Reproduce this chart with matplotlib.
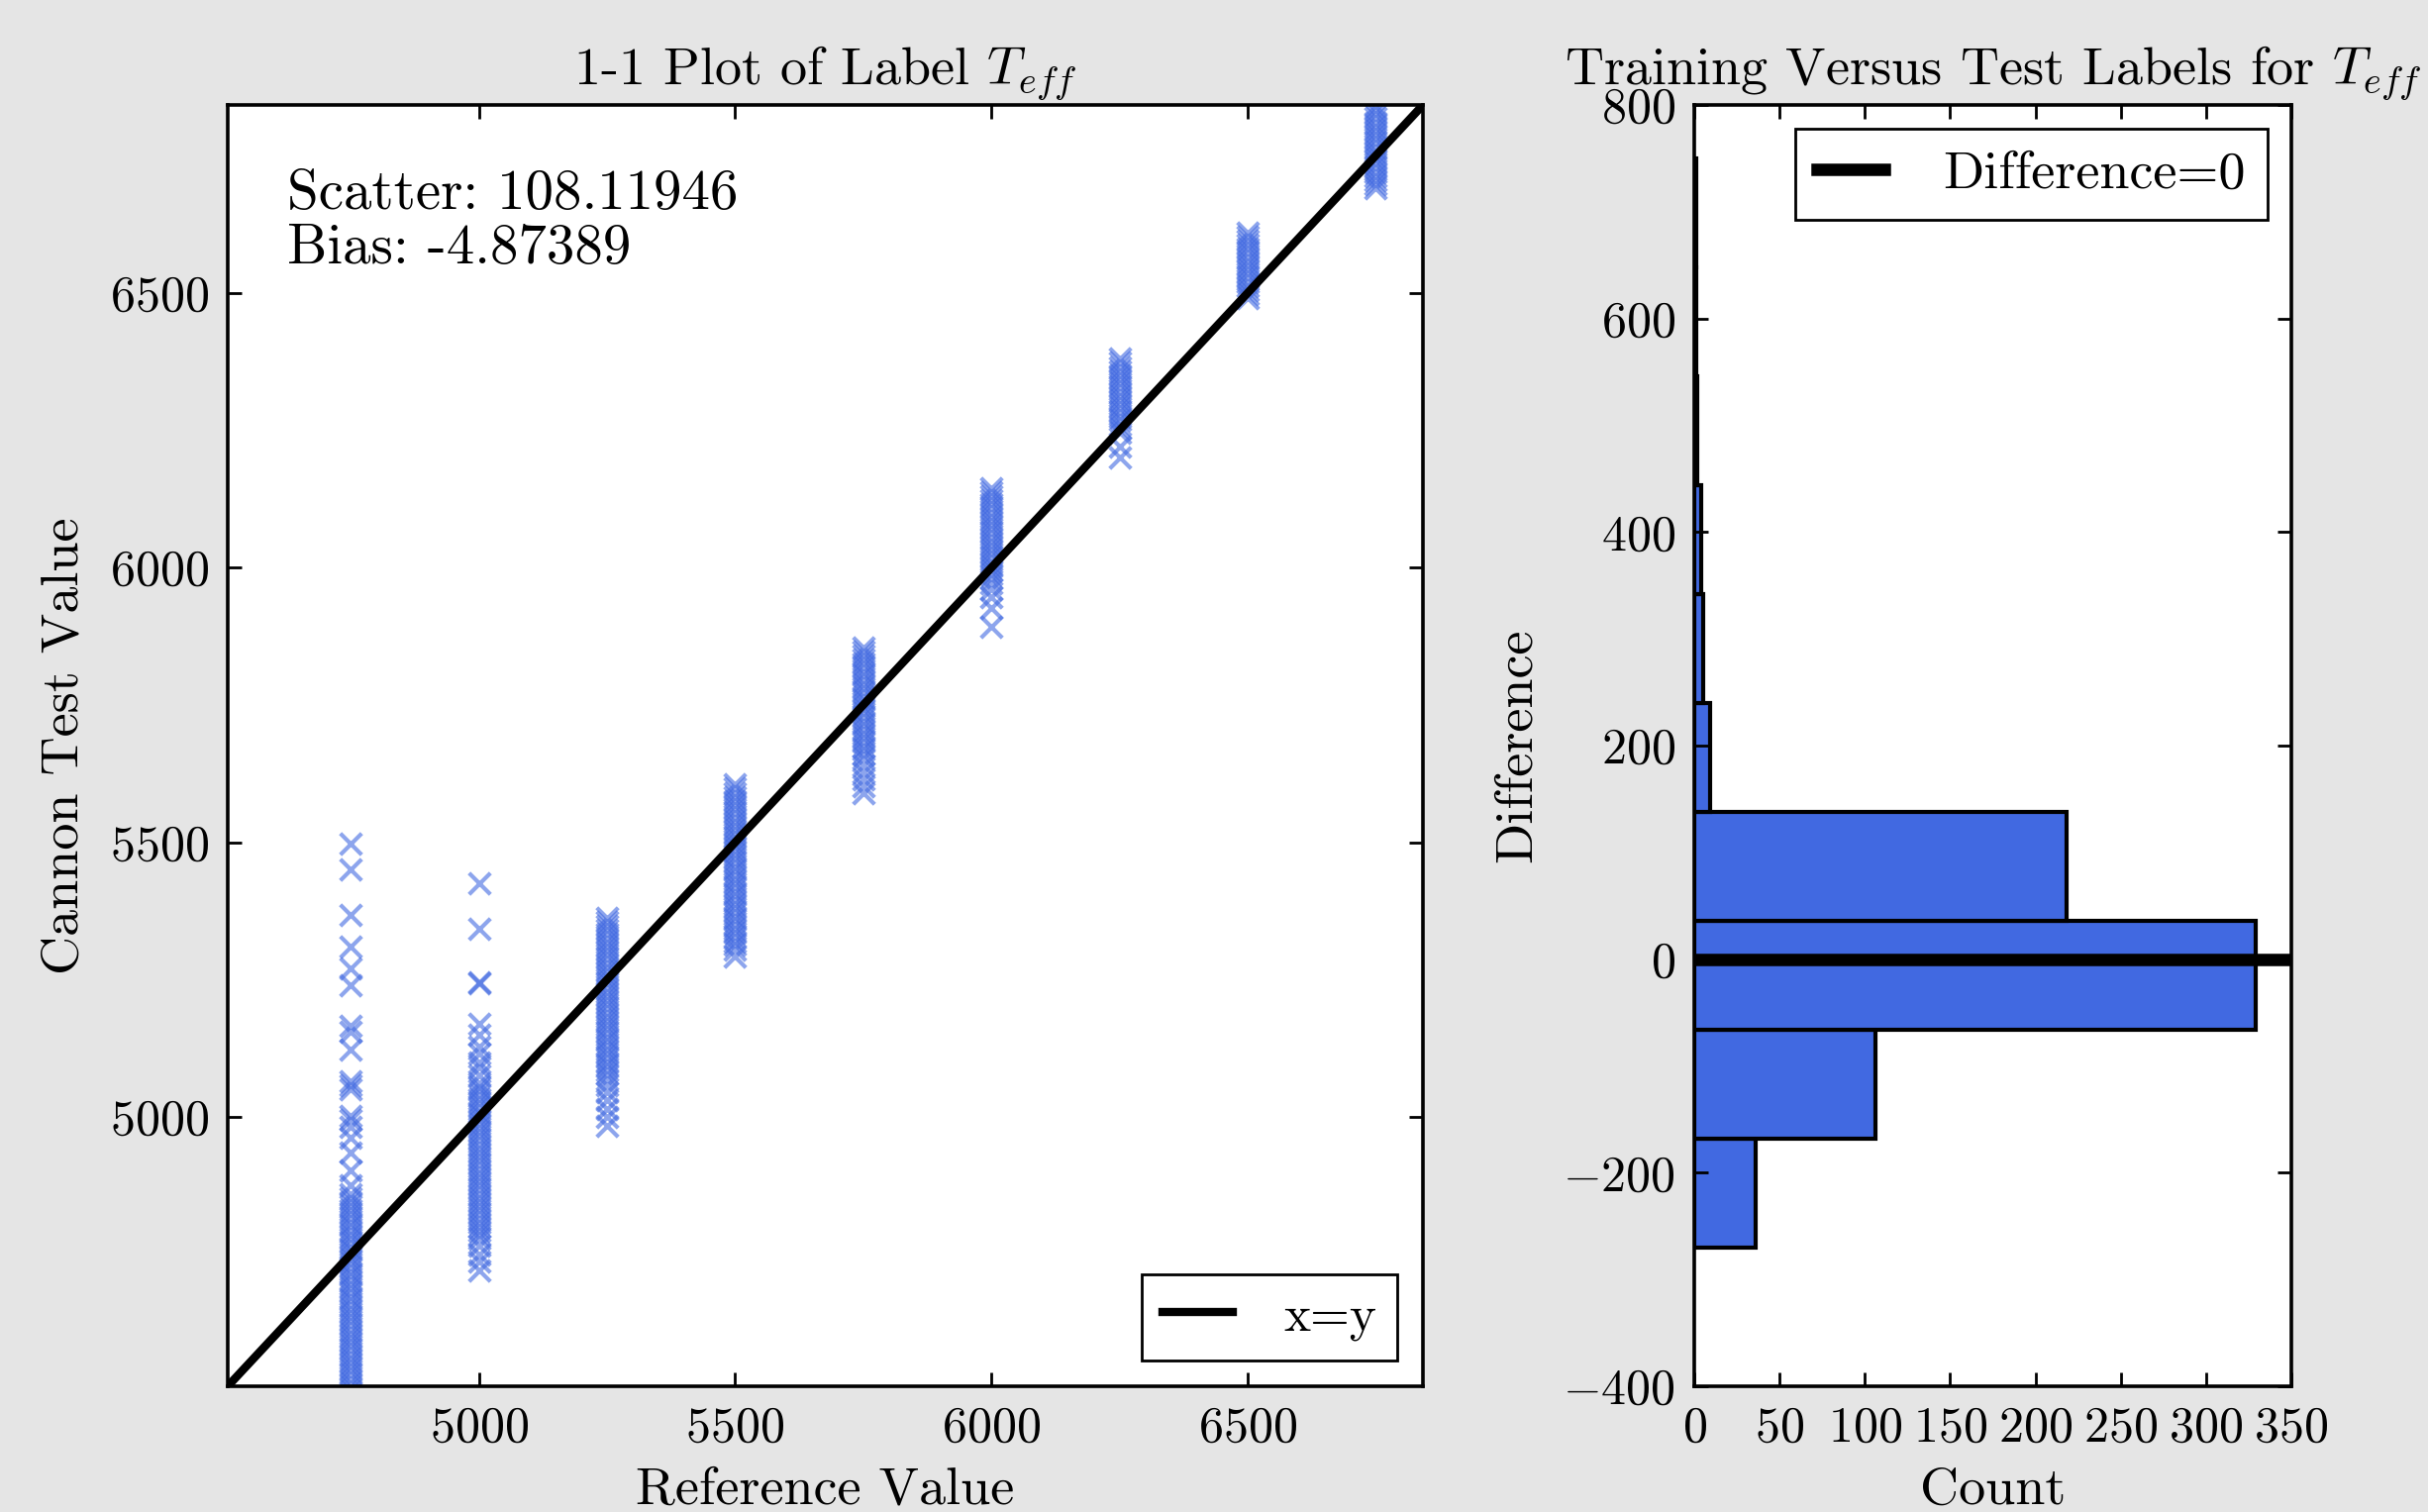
import matplotlib
matplotlib.use("Agg")
import matplotlib.pyplot as plt

plt.rcParams['font.family'] = 'serif'
plt.rcParams['font.serif'] = ['cmr10']
plt.rcParams['mathtext.fontset'] = 'cm'
plt.rcParams['axes.formatter.use_mathtext'] = True
plt.rcParams['xtick.direction'] = 'in'
plt.rcParams['ytick.direction'] = 'in'
plt.rcParams['xtick.top'] = True
plt.rcParams['ytick.right'] = True

# reference Teff of each test star group
ref_teff = [4750, 5000, 5250, 5500, 5750, 6000, 6250, 6500, 6750]

# cannon test values
test_4750 = [5497, 5450, 5367, 5310, 5270, 5240, 5166, 5156, 5123, 5065, 5058, 5050,
             5002, 4995, 4982, 4962, 4935, 4902, 4875,
             4860, 4853, 4846, 4838, 4831, 4823, 4816, 4808, 4801, 4793, 4786, 4778,
             4771, 4763, 4756, 4748, 4741, 4733, 4726, 4718, 4711, 4703, 4696, 4688,
             4681, 4673, 4666, 4658, 4651, 4643, 4636, 4628, 4621, 4613, 4606, 4598,
             4591, 4583, 4576, 4568, 4561, 4553, 4546, 4538, 4531, 4523, 4516, 4508,
             4501, 4493, 4486]
test_5000 = [5426, 5342, 5245, 5243, 5170, 5149, 5128, 5115, 5100, 5090, 5075, 5062,
             5055, 5048, 5040, 5033, 5025, 5018, 5010, 5003, 4995, 4988, 4980, 4973,
             4965, 4958, 4950, 4943, 4935, 4928, 4920, 4913, 4905, 4898, 4890, 4883,
             4875, 4868, 4860, 4853, 4845, 4838, 4830, 4823, 4815, 4808, 4800, 4793,
             4785, 4778, 4765, 4750, 4737, 4721]
test_5250 = [5362, 5355, 5348, 5340, 5333, 5325, 5318, 5310, 5303, 5295, 5288, 5280,
             5273, 5265, 5258, 5250, 5243, 5235, 5228, 5220, 5213, 5205, 5198, 5190,
             5183, 5175, 5168, 5160, 5153, 5145, 5138, 5130, 5123, 5115, 5108, 5100,
             5093, 5085, 5078, 5068, 5058, 5045, 5030, 5015, 5000, 4983]
test_5500 = [5605, 5598, 5590, 5583, 5575, 5568, 5560, 5553, 5545, 5538, 5530, 5523,
             5515, 5508, 5500, 5493, 5485, 5478, 5470, 5463, 5455, 5448, 5440, 5433,
             5425, 5418, 5410, 5403, 5395, 5388, 5380, 5373, 5365, 5358, 5350, 5343,
             5335, 5328, 5320, 5313, 5305, 5292]
test_5750 = [5855, 5848, 5840, 5833, 5825, 5818, 5810, 5803, 5795, 5788, 5780, 5773,
             5765, 5758, 5750, 5743, 5735, 5728, 5720, 5713, 5705, 5698, 5690, 5683,
             5675, 5668, 5660, 5652, 5640, 5628, 5615, 5602, 5590]
test_6000 = [6145, 6138, 6130, 6123, 6115, 6108, 6100, 6093, 6085, 6078, 6070, 6063,
             6055, 6048, 6040, 6033, 6025, 6018, 6010, 6003, 5995, 5988, 5980, 5972,
             5960, 5947, 5926, 5893]
test_6250 = [6380, 6373, 6365, 6358, 6350, 6343, 6335, 6328, 6320, 6313, 6305, 6298,
             6290, 6283, 6275, 6268, 6260, 6253, 6245, 6221, 6200]
test_6500 = [6610, 6603, 6595, 6588, 6580, 6573, 6565, 6558, 6550, 6543, 6535, 6528,
             6520, 6513, 6505, 6498, 6490]
test_6750 = [6840, 6833, 6825, 6818, 6810, 6803, 6795, 6788, 6780, 6773, 6765, 6758,
             6750, 6743, 6735, 6728, 6720, 6713, 6705, 6698, 6690]
test_cols = [test_4750, test_5000, test_5250, test_5500, test_5750,
             test_6000, test_6250, test_6500, test_6750]

scatter_val = 108.11946
bias_val = -4.87389

# histogram of (test - reference)
diff_edges = [-270, -168, -66, 36, 138, 240, 342, 444, 546, 648, 750]
diff_counts = [36, 106, 329, 218, 9, 5, 4, 2, 1, 1]

fig = plt.figure(figsize=(12.26, 7.635), dpi=200, facecolor='#e5e5e5')

ax1 = fig.add_axes([0.0938, 0.0832, 0.4923, 0.8474])
xs = []
ys = []
for ref, col in zip(ref_teff, test_cols):
    xs += [ref] * len(col)
    ys += col
ax1.scatter(xs, ys, marker='x', s=60, linewidths=1.5, color='royalblue', alpha=0.6)
lo, hi = 4510, 6842
ax1.plot([lo, hi], [lo, hi], color='k', lw=3, label='x=y')
ax1.set_xlim(lo, hi)
ax1.set_ylim(lo, hi)
ax1.set_xticks([5000, 5500, 6000, 6500])
ax1.set_yticks([5000, 5500, 6000, 6500])
ax1.text(0.05, 0.95, "Scatter: %.5f\nBias: %.5f" % (scatter_val, bias_val),
         transform=ax1.transAxes, ha='left', va='top', fontsize=20.5, linespacing=1.1)
ax1.set_title(r"1-1 Plot of Label $T_{eff}$", fontsize=19.5, pad=8)
ax1.set_xlabel("Reference Value", fontsize=19.5, labelpad=6)
ax1.set_ylabel("Cannon Test Value", fontsize=19.5, labelpad=8)
ax1.legend(loc='lower right', fontsize=18.5, fancybox=False, edgecolor='k',
           handlelength=1.4, borderpad=0.4, handletextpad=1.0, framealpha=1,
           borderaxespad=0.5)

ax2 = fig.add_axes([0.6978, 0.0832, 0.2459, 0.8474])
widths = [diff_edges[i + 1] - diff_edges[i] for i in range(len(diff_counts))]
ax2.barh(diff_edges[:-1], diff_counts, height=widths, align='edge',
         color='royalblue', edgecolor='k', linewidth=1.5)
ax2.axhline(0, color='k', lw=4.5, label='Difference=0')
ax2.set_xlim(0, 350)
ax2.set_ylim(-400, 800)
ax2.set_xticks(range(0, 351, 50))
ax2.set_yticks(range(-400, 801, 200))
ax2.set_title(r"Training Versus Test Labels for $T_{eff}$", fontsize=19.5, pad=8)
ax2.set_xlabel("Count", fontsize=19.5, labelpad=6)
ax2.set_ylabel("Difference", fontsize=19.5, labelpad=8)
ax2.legend(loc='upper right', fontsize=19.5, fancybox=False, edgecolor='k',
           handlelength=1.25, borderpad=0.4, handletextpad=1.1, framealpha=1,
           borderaxespad=0.45)

for ax in (ax1, ax2):
    ax.tick_params(labelsize=18, length=5, width=1, pad=7)
    for sp in ax.spines.values():
        sp.set_linewidth(1.3)

fig.savefig("out.png", dpi=200, facecolor=fig.get_facecolor())
